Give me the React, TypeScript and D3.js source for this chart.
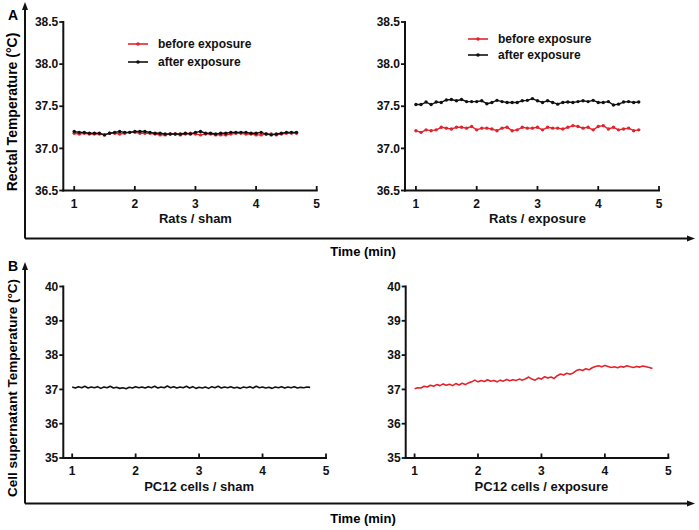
import React from "react";
import * as d3 from "d3";

// ---- data ----
const TIME_START = 1;
const TOP_STEP = 1 / 12; // 5 s sampling
const BOTTOM_STEP = 0.05; // 3 s sampling

const ratsShamBefore = [
  37.18, 37.17, 37.18, 37.17, 37.17, 37.17, 37.16, 37.18, 37.18, 37.17,
  37.18, 37.19, 37.19, 37.18, 37.18, 37.18, 37.17, 37.16, 37.16, 37.17,
  37.17, 37.16, 37.17, 37.18, 37.17, 37.16, 37.17, 37.17, 37.16, 37.16,
  37.16, 37.17, 37.18, 37.18, 37.17, 37.17, 37.16, 37.16, 37.17, 37.17,
  37.16, 37.17, 37.18, 37.18, 37.18,
];
const ratsShamAfter = [
  37.2, 37.19, 37.19, 37.18, 37.18, 37.18, 37.16, 37.18, 37.19, 37.2,
  37.19, 37.19, 37.2, 37.2, 37.2, 37.19, 37.18, 37.18, 37.17, 37.17,
  37.17, 37.17, 37.18, 37.17, 37.19, 37.2, 37.18, 37.18, 37.17, 37.18,
  37.18, 37.19, 37.19, 37.19, 37.19, 37.18, 37.18, 37.19, 37.17, 37.16,
  37.17, 37.18, 37.19, 37.19, 37.19,
];
const ratsExposureBefore = [
  37.21, 37.19, 37.22, 37.21, 37.22, 37.25, 37.24, 37.23, 37.25, 37.25,
  37.24, 37.26, 37.22, 37.24, 37.24, 37.23, 37.21, 37.24, 37.25, 37.21,
  37.22, 37.25, 37.24, 37.24, 37.25, 37.22, 37.25, 37.24, 37.24, 37.23,
  37.25, 37.27, 37.26, 37.24, 37.25, 37.22, 37.26, 37.27, 37.23, 37.25,
  37.22, 37.23, 37.24, 37.21, 37.22,
];
const ratsExposureAfter = [
  37.52, 37.52, 37.55, 37.52, 37.55, 37.545, 37.575, 37.58, 37.565, 37.58,
  37.555, 37.555, 37.555, 37.565, 37.53, 37.545, 37.57, 37.555, 37.545, 37.545,
  37.545, 37.565, 37.57, 37.59, 37.565, 37.545, 37.565, 37.545, 37.525, 37.545,
  37.55, 37.545, 37.555, 37.565, 37.555, 37.57, 37.545, 37.545, 37.555, 37.515,
  37.525, 37.55, 37.555, 37.545, 37.55,
];
const cellsSham = [
  37.07, 37.04, 37.08, 37.05, 37.09, 37.04, 37.07, 37.05, 37.08, 37.03,
  37.07, 37.05, 37.09, 37.04, 37.06, 37.03, 37.05, 37.02, 37.06, 37.04,
  37.08, 37.05, 37.07, 37.04, 37.08, 37.05, 37.09, 37.04, 37.07, 37.05,
  37.1, 37.05, 37.08, 37.04, 37.07, 37.05, 37.09, 37.04, 37.08, 37.03,
  37.06, 37.04, 37.07, 37.03, 37.08, 37.05, 37.09, 37.04, 37.07, 37.05,
  37.08, 37.04, 37.06, 37.03, 37.07, 37.05, 37.08, 37.04, 37.09, 37.05,
  37.07, 37.04, 37.06, 37.03, 37.07, 37.05, 37.08, 37.04, 37.07, 37.05,
  37.08, 37.04, 37.06, 37.05, 37.07, 37.06,
];
const cellsExposure = [
  37.02, 37.05, 37.04, 37.09, 37.07, 37.12, 37.09, 37.14, 37.11, 37.16,
  37.12, 37.15, 37.11, 37.17, 37.13, 37.18, 37.14, 37.19, 37.22, 37.27,
  37.22, 37.26, 37.23, 37.28, 37.24, 37.26, 37.22, 37.27, 37.24, 37.29,
  37.25, 37.28, 37.26, 37.3, 37.27, 37.31, 37.36, 37.3, 37.27, 37.33,
  37.3, 37.37, 37.33, 37.36, 37.32, 37.4, 37.45, 37.42, 37.47, 37.44,
  37.48, 37.55, 37.58, 37.55, 37.6, 37.57, 37.63, 37.67, 37.69, 37.66,
  37.7, 37.67, 37.64, 37.66, 37.63, 37.67, 37.65, 37.69, 37.66, 37.64,
  37.67, 37.65, 37.68, 37.66, 37.64, 37.61,
];

const xTicks = [1, 2, 3, 4, 5];
const ratYTicks = [36.5, 37.0, 37.5, 38.0, 38.5];
const cellYTicks = [35, 36, 37, 38, 39, 40];
const legendLabels = ["before exposure", "after exposure"];
const panelTitles = ["Rats / sham", "Rats / exposure", "PC12 cells / sham", "PC12 cells / exposure"];
const rowTitlesY = ["Rectal Temperature (°C)", "Cell supernatant Temperature (°C)"];
const rowLetters = ["A", "B"];
const timeLabel = "Time (min)";

// ---- style ----
const RED = "#e3222c";
const BLACK = "#111111";
const FONT = "'Liberation Sans', Arial, Helvetica, sans-serif";

type Series = { values: number[]; step: number; color: string; markers: boolean };

function toPoints(s: Series): [number, number][] {
  return s.values.map((v, i) => [TIME_START + i * s.step, v]);
}

type PanelProps = {
  axisX: number;
  x5: number;
  xMin: number;
  yTopPx: number;
  yBotPx: number;
  yDomain: [number, number];
  yTicks: number[];
  yFormat: (n: number) => string;
  title: string;
  series: Series[];
  legend?: { x: number; y: number; dy: number };
};

function Panel(p: PanelProps) {
  const x = d3.scaleLinear().domain([p.xMin, 5]).range([p.axisX, p.x5]);
  const y = d3.scaleLinear().domain(p.yDomain).range([p.yBotPx, p.yTopPx]);
  const line = d3
    .line<[number, number]>()
    .x((d) => x(d[0]))
    .y((d) => y(d[1]));
  const base = y(p.yDomain[0]);
  return (
    <g>
      {p.series.map((s, i) => {
        const pts = toPoints(s);
        return (
          <g key={i}>
            <path d={line(pts) || ""} fill="none" stroke={s.color} strokeWidth={s.markers ? 1.4 : 1.6} strokeLinejoin="round" />
            {s.markers &&
              pts.map((d, j) => <circle key={j} cx={x(d[0])} cy={y(d[1])} r={1.7} fill={s.color} />)}
          </g>
        );
      })}
      <line x1={p.axisX} x2={p.axisX} y1={p.yTopPx - 1} y2={base + 1} stroke={BLACK} strokeWidth={2} />
      {p.yTicks.map((t) => (
        <g key={t}>
          <line x1={p.axisX - 4} x2={p.axisX} y1={y(t)} y2={y(t)} stroke={BLACK} strokeWidth={1.8} />
          <text x={p.axisX - 5} y={y(t)} dy="0.35em" textAnchor="end" fontSize={12} fontWeight="bold" fontFamily={FONT} fill={BLACK}>
            {p.yFormat(t)}
          </text>
        </g>
      ))}
      <line x1={p.axisX - 1} x2={p.x5 + 1} y1={base} y2={base} stroke={BLACK} strokeWidth={2} />
      {xTicks.map((t) => (
        <g key={t}>
          <line x1={x(t)} x2={x(t)} y1={base} y2={base - 4.5} stroke={BLACK} strokeWidth={1.8} />
          <text x={x(t)} y={base + 13} dy="0.35em" textAnchor="middle" fontSize={12} fontWeight="bold" fontFamily={FONT} fill={BLACK}>
            {t}
          </text>
        </g>
      ))}
      <text x={(x(1) + x(5)) / 2} y={base + 28} dy="0.35em" textAnchor="middle" fontSize={13} fontWeight="bold" fontFamily={FONT} fill={BLACK}>
        {p.title}
      </text>
      {p.legend &&
        p.series.map((s, i) => {
          const ly = p.legend!.y + i * p.legend!.dy;
          return (
            <g key={"lg" + i}>
              <line x1={p.legend!.x} x2={p.legend!.x + 20} y1={ly} y2={ly} stroke={s.color} strokeWidth={1.6} />
              <circle cx={p.legend!.x + 10} cy={ly} r={1.8} fill={s.color} />
              <text x={p.legend!.x + 30} y={ly} dy="0.35em" fontSize={12} fontWeight="bold" fontFamily={FONT} fill={BLACK}>
                {legendLabels[i]}
              </text>
            </g>
          );
        })}
    </g>
  );
}

function Arrow({ x1, y1, x2, y2 }: { x1: number; y1: number; x2: number; y2: number }) {
  const ang = Math.atan2(y2 - y1, x2 - x1);
  const L = 8;
  const W = 3;
  const bx = x2 - L * Math.cos(ang);
  const by = y2 - L * Math.sin(ang);
  const px = -Math.sin(ang) * W;
  const py = Math.cos(ang) * W;
  return (
    <g>
      <line x1={x1} y1={y1} x2={bx} y2={by} stroke={BLACK} strokeWidth={2} />
      <path d={`M${x2},${y2}L${bx + px},${by + py}L${bx - px},${by - py}Z`} fill={BLACK} />
    </g>
  );
}

export default function App() {
  const ratFmt = d3.format(".1f");
  const cellFmt = d3.format("d");
  return (
    <svg width={699} height={530} style={{ position: "absolute", left: 0, top: 0, background: "#fff" }}>
      <rect width={699} height={530} fill="#fff" />
      <Arrow x1={25} y1={238.5} x2={25} y2={2} />
      <Arrow x1={25} y1={238.5} x2={695} y2={238.5} />
      <Arrow x1={25} y1={503.5} x2={25} y2={262} />
      <Arrow x1={25} y1={503.5} x2={695} y2={503.5} />
      <text x={13} y={15} dy="0.35em" textAnchor="middle" fontSize={14} fontWeight="bold" fontFamily={FONT}>{rowLetters[0]}</text>
      <text x={13} y={266} dy="0.35em" textAnchor="middle" fontSize={14} fontWeight="bold" fontFamily={FONT}>{rowLetters[1]}</text>
      <text x={363} y={251} dy="0.35em" textAnchor="middle" fontSize={13} fontWeight="bold" fontFamily={FONT}>{timeLabel}</text>
      <text x={363} y={518} dy="0.35em" textAnchor="middle" fontSize={13} fontWeight="bold" fontFamily={FONT}>{timeLabel}</text>
      <text transform="translate(12,112) rotate(-90)" dy="0.35em" textAnchor="middle" fontSize={14} fontWeight="bold" fontFamily={FONT}>{rowTitlesY[0]}</text>
      <text transform="translate(12,388) rotate(-90)" dy="0.35em" textAnchor="middle" fontSize={13.5} fontWeight="bold" fontFamily={FONT}>{rowTitlesY[1]}</text>

      <Panel
        axisX={63.3}
        x5={316.7}
        xMin={0.82}
        yTopPx={22}
        yBotPx={190.5}
        yDomain={[36.5, 38.5]}
        yTicks={ratYTicks}
        yFormat={ratFmt}
        title={panelTitles[0]}
        series={[
          { values: ratsShamBefore, step: TOP_STEP, color: RED, markers: true },
          { values: ratsShamAfter, step: TOP_STEP, color: BLACK, markers: true },
        ]}
        legend={{ x: 128, y: 44, dy: 18 }}
      />
      <Panel
        axisX={405}
        x5={659}
        xMin={0.82}
        yTopPx={22}
        yBotPx={190.5}
        yDomain={[36.5, 38.5]}
        yTicks={ratYTicks}
        yFormat={ratFmt}
        title={panelTitles[1]}
        series={[
          { values: ratsExposureBefore, step: TOP_STEP, color: RED, markers: true },
          { values: ratsExposureAfter, step: TOP_STEP, color: BLACK, markers: true },
        ]}
        legend={{ x: 468, y: 39, dy: 16 }}
      />
      <Panel
        axisX={63.3}
        x5={326}
        xMin={0.86}
        yTopPx={286.5}
        yBotPx={458}
        yDomain={[35, 40]}
        yTicks={cellYTicks}
        yFormat={cellFmt}
        title={panelTitles[2]}
        series={[{ values: cellsSham, step: BOTTOM_STEP, color: BLACK, markers: false }]}
      />
      <Panel
        axisX={405.7}
        x5={668.3}
        xMin={0.86}
        yTopPx={286.5}
        yBotPx={458}
        yDomain={[35, 40]}
        yTicks={cellYTicks}
        yFormat={cellFmt}
        title={panelTitles[3]}
        series={[{ values: cellsExposure, step: BOTTOM_STEP, color: RED, markers: false }]}
      />
    </svg>
  );
}
